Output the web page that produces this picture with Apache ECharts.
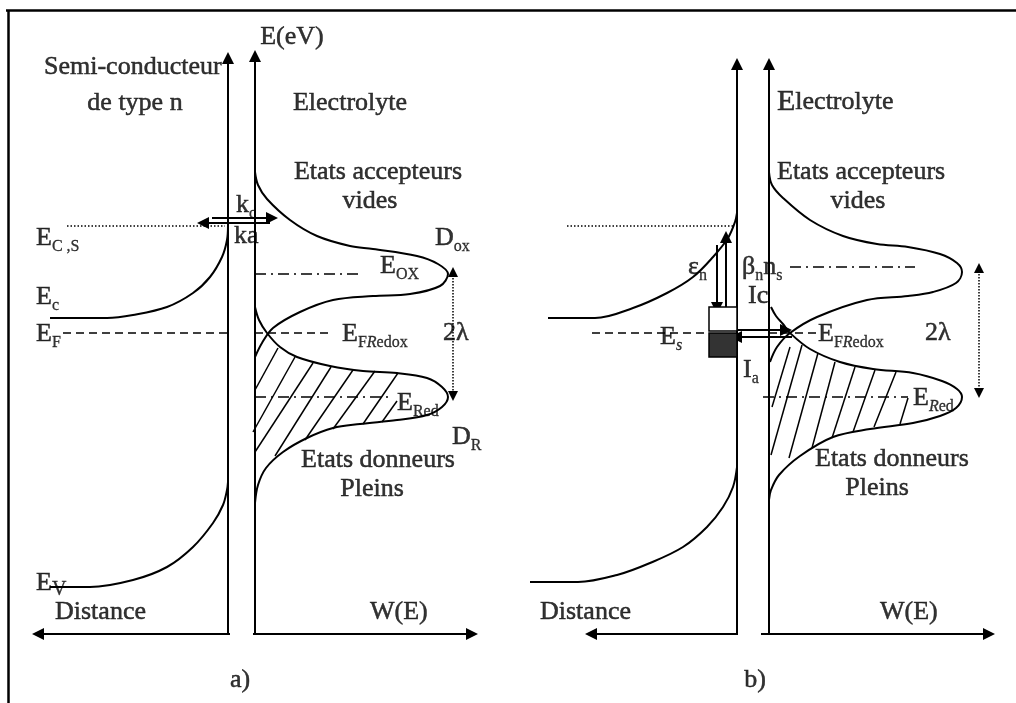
<!DOCTYPE html>
<html>
<head>
<meta charset="utf-8">
<script src="https://cdn.jsdelivr.net/npm/echarts@6/dist/echarts.min.js"></script>
<style>
  html, body { margin: 0; padding: 0; background: #fff; }
  #chart { width: 1016px; height: 703px; }
</style>
</head>
<body>
<div id="chart"></div>
<script>
// coordinates are in the diagram's own units (x: 0..1016, y: 0..703 from the top)

// a) semi-conducteur : bande de conduction / valence
const bandCa = [[50,318],[107,318],[133,315],[167,307],[193,293],[210,277],[222,257],[227,240],[228,225]];
const bandVa = [[50,587],[90,587],[133,580],[167,567],[193,547],[213,523],[223,505],[227,490],[228,482]];
// a) electrolyte : D_ox et D_R
const doxA = [[255,172],[258,185],[267,199],[290,220],[317,236],[350,246],[373,249],[417,256],[438,264],[448,274],[440,286],[410,294],[373,296],[333,300],[300,312],[273,328],[262,343],[255,357]];
const drA = [[255,307],[259,320],[267,333],[280,347],[297,357],[330,366],[363,371],[397,373],[427,378],[442,387],[448,397],[442,407],[427,415],[397,420],[360,424],[333,428],[307,438],[283,452],[266,468],[258,485],[255,503]];

// b) semi-conducteur
const bandCb = [[548,318],[595,318],[633,308],[667,293],[693,277],[713,257],[728,238],[735,222],[737,213]];
const bandVb = [[530,582],[578,582],[617,575],[650,563],[683,547],[707,527],[723,507],[733,487],[737,467]];
// b) electrolyte
const doxB = [[769,172],[772,185],[783,198],[810,220],[843,236],[877,244],[908,247],[940,254],[957,263],[962,272],[956,283],[933,292],[908,296],[867,300],[817,317],[790,333],[777,347],[770,362]];
const drB = [[771,307],[776,316],[783,324],[790,333],[810,349],[840,362],[873,369],[913,373],[942,381],[957,389],[962,397],[956,408],[940,416],[913,423],[870,429],[833,437],[800,456],[779,475],[771,490],[769,500]];

// hachures (etats donneurs pleins)
const hatchA = [
  [[278,348],[255,390]], [[295,357],[253,432]], [[313,363],[255,452]], [[331,367],[275,456]],
  [[353,370],[305,440]], [[375,371],[333,429]], [[398,373],[363,424]], [[397,401],[382,422]]
];
const hatchB = [
  [[790,347],[772,407]], [[802,345],[771,455]], [[818,353],[789,458]], [[835,362],[812,448]],
  [[855,367],[832,438]], [[875,370],[853,432]], [[896,372],[874,427]], [[908,398],[900,424]]
];

// axes and arrows (start -> arrow tip)
const arrowLines = [
  [[228,634],[228,58]], [[255,634],[255,56]], [[230,634],[38,634]], [[253,634],[472,634]],
  [[737,634],[737,64]], [[769,634],[769,64]], [[738,634],[591,634]], [[761,634],[989,634]],
  [[212,218],[272,218]], [[270,223],[203,223]],
  [[717,245],[717,308]], [[726,307],[726,237]], [[737,330],[786,330]], [[792,337],[736,337]]
];
const frameLines = [[[6,10],[1016,10]], [[8,10],[8,703]]];
const dottedLines = [[[67,226],[225,226]], [[567,226],[735,226]]];
const dashedLines = [[[63,333],[228,333]], [[255,333],[330,333]], [[592,333],[709,333]], [[769,333],[817,333]]];
const dashDotLines = [[[255,274],[358,274]], [[255,397],[390,397]], [[790,267],[915,267]], [[763,397],[908,397]]];
const lambdaArrows = [[[453,272],[453,396]], [[979,268],[979,393]]];

// niveaux de surface (boites)
const boxes = [[709,307,737,331],[709,333,737,357]];
const boxFill = ['#ffffff','#333333'];

// texts: x, y, text, align
const labels = [
  [292,37,'E(eV)','center'],
  [44,67,'Semi-conducteur','left'],
  [135,103,'de type n','center'],
  [350,103,'Electrolyte','center'],
  [378,172,'Etats accepteurs','center'],
  [370,201,'vides','center'],
  [236,205,'{m|k}{s|c}','left'],
  [234,236,'ka','left'],
  [36,238,'{m|E}{s|C ,S}','left'],
  [36,297,'{m|E}{s|c}','left'],
  [36,334,'{m|E}{s|F}','left'],
  [380,266,'{m|E}{s|OX}','left'],
  [435,238,'{m|D}{s|ox}','left'],
  [342,334,'{m|E}{s|F}{si|R}{s|edox}','left'],
  [443,333,'2λ','left'],
  [397,403,'{m|E}{s|Red}','left'],
  [452,437,'{m|D}{s|R}','left'],
  [378,460,'Etats donneurs','center'],
  [372,489,'Pleins','center'],
  [36,583,'{m|E}{sv|V}','left'],
  [55,612,'Distance','left'],
  [370,612,'W(E)','left'],
  [240,680,'a)','center'],

  [777,102,'{big|E}lectrolyte','left'],
  [777,172,'Etats accepteurs','left'],
  [858,201,'vides','center'],
  [688,267,'{m|ε}{s|n}','left'],
  [742,267,'{m|β}{s|n}{m|n}{s|s}','left'],
  [748,296,'Ic','left'],
  [660,337,'{m|E}{si|s}','left'],
  [818,334,'{m|E}{s|F}{si|R}{s|edox}','left'],
  [925,333,'2λ','left'],
  [743,370,'{m|I}{s|a}','left'],
  [913,398,'{m|E}{si|R}{s|ed}','left'],
  [815,459,'Etats donneurs','left'],
  [877,488,'Pleins','center'],
  [540,612,'Distance','left'],
  [880,612,'W(E)','left'],
  [755,680,'b)','center']
];

const FONT = 'Liberation Serif';
const chart = echarts.init(document.getElementById('chart'));

function curve(data) {
  return {
    type: 'line', data: data, smooth: 0.35, showSymbol: false, silent: true,
    lineStyle: { color: '#000', width: 2 }
  };
}
function segs(list, style, symbol, size) {
  return {
    type: 'lines', coordinateSystem: 'cartesian2d', silent: true,
    data: list.map(c => ({ coords: c })),
    symbol: symbol || ['none', 'none'], symbolSize: size || 12,
    itemStyle: { color: '#000' },
    lineStyle: Object.assign({ color: '#000', width: 2, opacity: 1, curveness: 0 }, style)
  };
}

// slightly heavier glyphs, like the scanned original
const ink = { color: '#000', fontFamily: FONT, textBorderColor: '#000', textBorderWidth: 0.5 };

const option = {
  animation: false,
  backgroundColor: '#fff',
  textStyle: { fontFamily: FONT },
  grid: { left: 0, right: 0, top: 0, bottom: 0 },
  xAxis: { type: 'value', min: 0, max: 1016, show: false },
  yAxis: { type: 'value', min: 0, max: 703, inverse: true, show: false },
  series: [
    curve(bandCa), curve(bandVa), curve(doxA), curve(drA),
    curve(bandCb), curve(bandVb), curve(doxB), curve(drB),
    segs(hatchA, { width: 1.5 }),
    segs(hatchB, { width: 1.5 }),
    segs(frameLines, { width: 2.5 }),
    segs(arrowLines, { width: 2 }, ['none', 'triangle'], 12),
    segs(dottedLines, { width: 1.5, type: [1.5, 2] }),
    segs(dashedLines, { width: 1.5, type: [8, 5] }),
    segs(dashDotLines, { width: 1.5, type: [11, 5, 2, 5] }),
    segs(lambdaArrows, { width: 1.5, type: [1.5, 1.5] }, ['triangle', 'triangle'], 10),
    {
      type: 'custom', silent: true,
      data: boxes,
      renderItem: function (params, api) {
        const p0 = api.coord([api.value(0), api.value(1)]);
        const p1 = api.coord([api.value(2), api.value(3)]);
        return {
          type: 'rect',
          shape: { x: p0[0], y: p0[1], width: p1[0] - p0[0], height: p1[1] - p0[1] },
          style: { fill: boxFill[params.dataIndex], stroke: '#000', lineWidth: 1.5 }
        };
      }
    },
    {
      type: 'scatter', symbolSize: 0, silent: true,
      data: labels.map(l => ({
        value: [l[0], l[1]],
        label: { formatter: l[2], align: l[3] }
      })),
      label: Object.assign({
        show: true, position: 'inside', verticalAlign: 'middle',
        fontSize: 26, lineHeight: 34,
        rich: {
          m: Object.assign({ fontSize: 26, lineHeight: 34 }, ink),
          big: Object.assign({ fontSize: 30, lineHeight: 34 }, ink),
          s: Object.assign({ fontSize: 16, lineHeight: 16, verticalAlign: 'bottom' }, ink, { textBorderWidth: 0.3 }),
          si: Object.assign({ fontSize: 16, lineHeight: 16, verticalAlign: 'bottom', fontStyle: 'italic' }, ink, { textBorderWidth: 0.3 }),
          sv: Object.assign({ fontSize: 20, lineHeight: 20, verticalAlign: 'bottom' }, ink, { textBorderWidth: 0.3 })
        }
      }, ink)
    }
  ]
};

chart.setOption(option);
</script>
</body>
</html>
